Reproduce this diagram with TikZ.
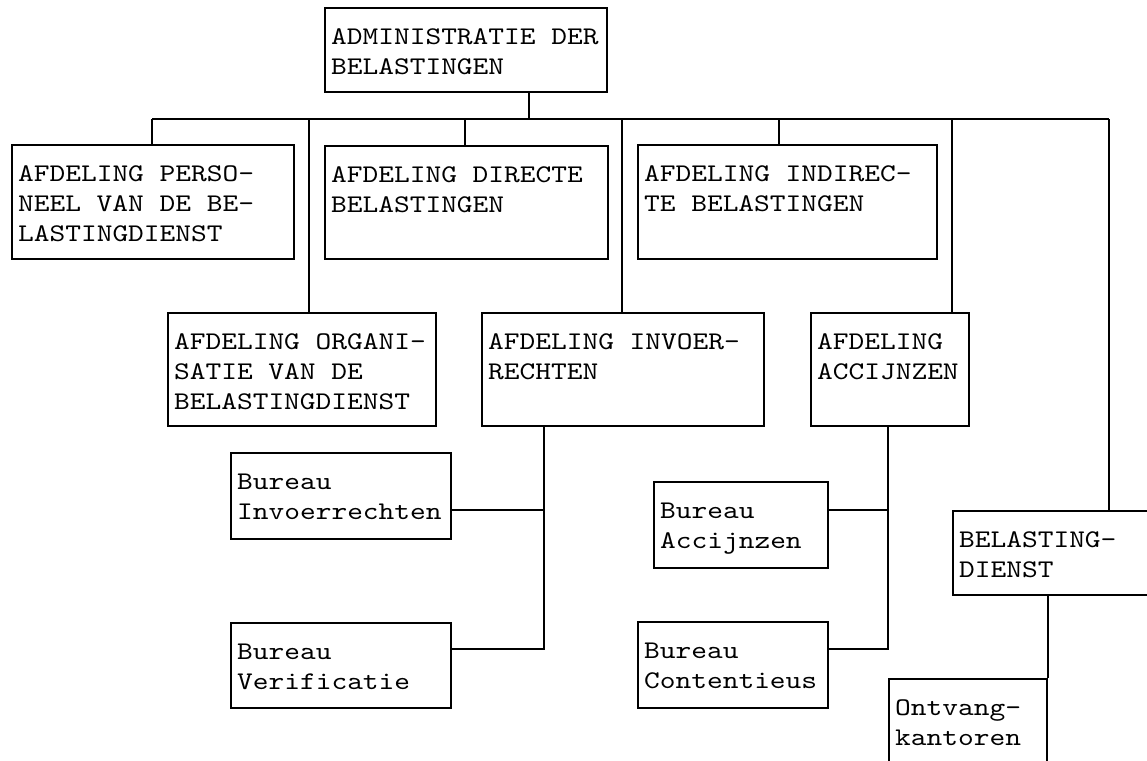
\documentclass[tikz,border=0pt]{standalone}
\usepackage{fontspec}
\newfontfamily\typefont{lmmono10-regular.otf}[FakeStretch=1.18]
\DeclareRobustCommand\deptfont{\typefont\fontsize{25.4pt}{30pt}\selectfont}
\tikzset{
  dept/.style 2 args={draw, anchor=north west, inner xsep=6pt, inner ysep=0pt,
    text width=#1pt, text height=36pt, text depth=#2pt, align=left,
    font=\deptfont, execute at begin node={\spaceskip=15.73pt\relax}}
}
\begin{document}
\begin{tikzpicture}[x=1pt,y=-1pt,line width=2.2pt]
\useasboundingbox (0,0) rectangle (1147,760);
\clip (0,0) rectangle (1147,760);
% top
\node[dept={270}{48}] (adm) at (324,7) {ADMINISTRATIE DER\\BELASTINGEN};
% first row
\node[dept={270}{78}] (pers) at (11,144) {AFDELING PERSO-\\NEEL VAN DE BE-\\LASTINGDIENST};
\node[dept={271}{77}] (dir) at (324,145) {AFDELING DIRECTE\\BELASTINGEN};
\node[dept={287}{78}] (ind) at (637,144) {AFDELING INDIREC-\\TE BELASTINGEN};
% second row
\node[dept={256}{77}] (org) at (167,312) {AFDELING ORGANI-\\SATIE VAN DE\\BELASTINGDIENST};
\node[dept={270}{77}] (inv) at (481,312) {AFDELING INVOER-\\RECHTEN};
\node[dept={146}{77}] (acc) at (810,312) {AFDELING\\ACCIJNZEN};
% bureaus
\node[dept={208}{50}] (binv) at (230,452) {Bureau\\Invoerrechten};
\node[dept={208}{49}] (bver) at (230,622) {Bureau\\Verificatie};
\node[dept={162}{50}] (bacc) at (653,481) {Bureau\\Accijnzen};
\node[dept={178}{50}] (bcon) at (637,621) {Bureau\\Contentieus};
\node[dept={218}{48}] (bel) at (952,510) {BELASTING-\\DIENST};
\node[dept={146}{50}] (ont) at (888,678) {Ontvang-\\kantoren};
% bus
\coordinate (tadm) at (529,119);
\coordinate (tpers) at (152,119);
\coordinate (torg) at (309,119);
\coordinate (tdir) at (465,119);
\coordinate (tinv) at (622,119);
\coordinate (tind) at (779,119);
\coordinate (tacc) at (952,119);
\coordinate (tbel) at (1109,119);
\draw (tpers) -- (tbel);
\draw (adm.south -| tadm) -- (tadm);
\foreach \t/\n in {tpers/pers,torg/org,tdir/dir,tinv/inv,tind/ind,tacc/acc,tbel/bel}
  \draw (\t) -- (\t |- \n.north);
% invoerrechten
\coordinate (kinv1) at (544,510);
\coordinate (kinv2) at (544,649);
\draw (inv.south -| kinv1) -- (kinv2) -- (kinv2 -| bver.east);
\draw (binv.east |- kinv1) -- (kinv1);
% accijnzen
\coordinate (kacc1) at (888,510);
\coordinate (kacc2) at (888,649);
\draw (acc.south -| kacc1) -- (kacc2) -- (kacc2 -| bcon.east);
\draw (bacc.east |- kacc1) -- (kacc1);
% belastingdienst
\draw (bel.south -| ont.east) -- (ont.north east);
\end{tikzpicture}
\end{document}
